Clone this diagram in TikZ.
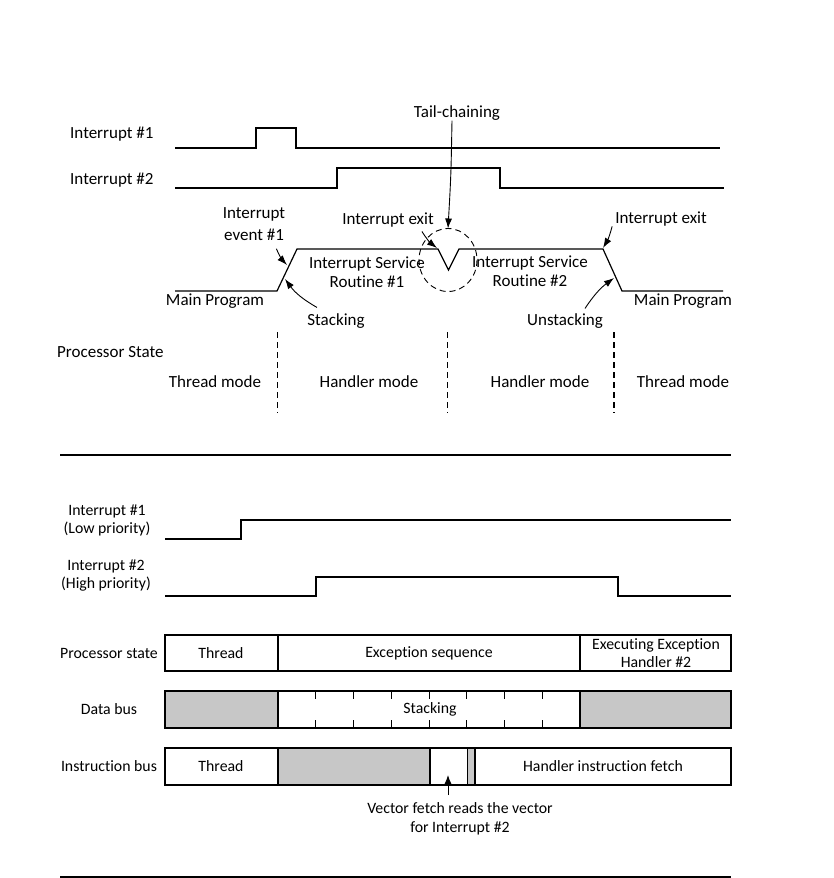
\documentclass[tikz,border=0pt]{standalone}
\usepackage{fontspec}
\setmainfont{Carlito}[Ligatures={NoCommon}]
\usetikzlibrary{arrows.meta}
\begin{document}
\begin{tikzpicture}[x=1pt,y=-1pt,
  wave/.style={line width=1.2pt},
  lab/.style={font=\fontsize{17}{19}\selectfont, inner sep=0pt, align=center},
  blab/.style={font=\fontsize{15.8}{18}\selectfont, inner sep=0pt, align=center},
  callout/.style={line width=0.9pt, -{Latex[length=10pt,width=7pt]}},
  modeline/.style={line width=1pt, dash pattern=on 5.5pt off 4.5pt},
  cell/.style={draw, line width=1.1pt},
  shade/.style={fill=black!22},
  tick/.style={line width=1pt},
]
\useasboundingbox (0,0) rectangle (834,878);

% ---------- top: signals ----------
\node[lab, anchor=west] (i1) at (70,134) {Interrupt \#1};
\node[lab, anchor=west] (i2) at (70,180) {Interrupt \#2};
\draw[wave] (175,148) -- (256,148) -- (256,128) -- (296,128) -- (296,148) -- (720,148);
\draw[wave] (175,188) -- (337,188) -- (337,168) -- (500,168) -- (500,188) -- (724,188);

% main trace
\draw[wave] (175,291) -- (277,291) -- (297,249) -- (438,249) -- (448.5,270) -- (459,249)
  -- (603,249) -- (622,291) -- (723,291);
\draw[line width=0.9pt, dash pattern=on 6pt off 4pt] (448,260) ellipse [x radius=29, y radius=31.5];

\coordinate (tEv) at (287,265);
\coordinate (tSt) at (285,279);
\coordinate (tEx1) at (437,248);
\coordinate (tTC) at (448,228.5);
\coordinate (tEx2) at (603,248);
\coordinate (tUn) at (614,278);

\node[lab] (tc) at (457,113) {Tail-chaining};
\node[lab, font=\fontsize{17}{22}\selectfont] (ev) at (254,224) {Interrupt\\event \#1};
\node[lab] (ex1) at (388,220) {Interrupt exit};
\node[lab] (isr1) at (367,272) {Interrupt Service\\Routine \#1};
\node[lab] (isr2) at (530,271) {Interrupt Service\\Routine \#2};
\node[lab] (ex2) at (661,219) {Interrupt exit};
\node[lab] (mp1) at (215,301) {Main Program};
\node[lab] (mp2) at (683,301) {Main Program};
\node[lab] (stk) at (336,321) {Stacking};
\node[lab] (ustk) at (565,321) {Unstacking};

\draw[callout] ([xshift=-5pt]tc.south) .. controls (451,175) .. (tTC);
\draw[callout] ([shift={(-12,4)}]ex1.south east) to[bend right=10] (tEx1);
\draw[callout] ([shift={(-9,8)}]ev.south east) to[bend right=10] (tEv);
\draw[callout] ([shift={(-19,-6)}]stk.north) to[bend left=12] (tSt);
\draw[callout] ([shift={(-3,0)}]ex2.south west) to[bend left=8] (tEx2);
\draw[callout] ([shift={(20,-5)}]ustk.north) to[bend left=10] (tUn);

% processor state
\node[lab, anchor=west] (ps) at (57,352) {Processor State};
\node[lab] (tm1) at (215,382) {Thread mode};
\node[lab] (hm1) at (369,382) {Handler mode};
\node[lab] (hm2) at (540,382) {Handler mode};
\node[lab] (tm2) at (683,382) {Thread mode};
\draw[modeline] (277,332) -- (277,413);
\draw[modeline] (447,332) -- (447,413);
\draw[modeline, line width=2pt] (614,332) -- (614,413);

\draw[line width=2.2pt] (60,455) -- (731,455);

% ---------- bottom ----------
\node[blab] (bi1) at (107,520) {Interrupt \#1\\(Low priority)};
\node[blab] (bi2) at (106,576) {Interrupt \#2\\(High priority)};
\draw[wave] (165,539) -- (241,539) -- (241,520) -- (731,520);
\draw[wave] (165,596) -- (316,596) -- (316,577) -- (618,577) -- (618,596) -- (731,596);

% processor state row
\node[blab] (lps) at (109,653) {Processor state};
\draw[cell] (165,635) rectangle (731,671);
\draw[cell] (278,635) -- (278,671);
\draw[cell] (580,635) -- (580,671);
\node[blab] (pth) at (221,653) {Thread};
\node[blab] (pes) at (429,653) {Exception sequence};
\node[blab] (peh) at (656,653) {Executing Exception\\Handler \#2};

% data bus row
\node[blab] (ldb) at (109,709) {Data bus};
\fill[shade] (165,691) rectangle (278,728);
\fill[shade] (580,691) rectangle (731,728);
\draw[cell] (165,691) rectangle (731,728);
\draw[cell] (278,691) -- (278,728);
\draw[cell] (580,691) -- (580,728);
\foreach \k in {1,...,7} {
  \draw[tick] ({278+\k*37.75},691) -- ++(0,8);
  \draw[tick] ({278+\k*37.75},728) -- ++(0,-8);
}
\node[blab] (dst) at (430,709) {Stacking};

% instruction bus row
\node[blab] (lib) at (109,766) {Instruction bus};
\fill[shade] (278,748) rectangle (430,785);
\fill[shade] (467.5,748) rectangle (475,785);
\draw[cell] (165,748) rectangle (731,785);
\draw[cell] (278,748) -- (278,785);
\draw[cell] (430,748) -- (430,785);
\draw[cell] (467.5,748) -- (467.5,785);
\draw[cell] (475,748) -- (475,785);
\node[blab] (ith) at (221,766) {Thread};
\node[blab] (ihf) at (603,766) {Handler instruction fetch};

\node[blab, font=\fontsize{15.8}{18.5}\selectfont] (vf) at (460,819) {Vector fetch reads the vector\\for Interrupt \#2};
\coordinate (vtip) at (448,775);
\draw[line width=1pt, -{Latex[length=10pt,width=8pt]}] (448,795) -- (vtip);

\draw[line width=2.2pt] (60,877) -- (731,877);
\end{tikzpicture}
\end{document}
